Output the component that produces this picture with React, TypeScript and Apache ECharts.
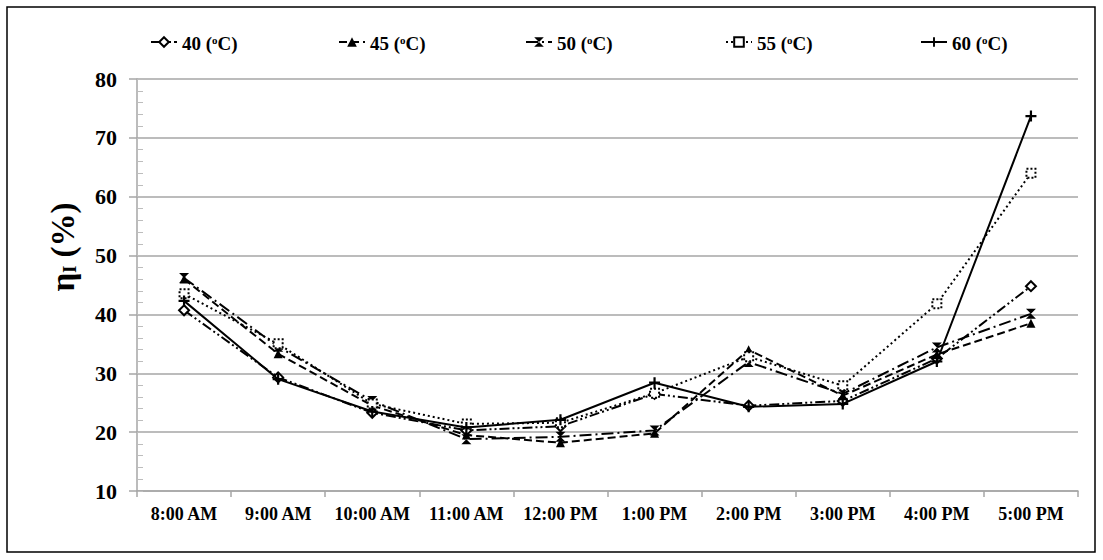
import React, { useEffect, useRef } from "react";
import * as echarts from "echarts";

const categories = ["8:00 AM", "9:00 AM", "10:00 AM", "11:00 AM", "12:00 PM", "1:00 PM", "2:00 PM", "3:00 PM", "4:00 PM", "5:00 PM"];
const seriesNames = ["40 (oC)", "45 (oC)", "50 (oC)", "55 (oC)", "60 (oC)"];
const s40 = [40.7, 29.3, 23.3, 20.3, 21.0, 26.5, 24.5, 25.3, 32.5, 44.8];
const s45 = [46.0, 33.3, 24.5, 19.5, 18.2, 19.8, 34.0, 26.2, 33.2, 38.5];
const s50 = [46.2, 34.5, 25.3, 18.8, 19.2, 20.3, 31.9, 26.5, 34.4, 40.1];
const s55 = [43.5, 35.0, 24.8, 21.4, 21.6, 26.6, 32.8, 27.9, 41.8, 64.0];
const s60 = [42.3, 29.0, 23.5, 20.8, 22.1, 28.4, 24.3, 24.8, 32.0, 73.7];
const yMin = 10;
const yMax = 80;
const yInterval = 10;

const FONT = "'Liberation Serif', 'Times New Roman', serif";

const PLUS = "path://M4,0 L6,0 L6,4 L10,4 L10,6 L6,6 L6,10 L4,10 L4,6 L0,6 L0,4 L4,4 Z";
const HOURGLASS = "path://M0,0 L10,0 L0,10 L10,10 Z";

export default function App() {
  const ref = useRef<HTMLDivElement>(null);
  useEffect(() => {
    if (!ref.current) return;
    const chart = echarts.init(ref.current, null, { renderer: "svg" });
    const values = [s40, s45, s50, s55, s60];
    const styles: any[] = [
      { dash: [10, 3, 2, 3, 2, 3], symbol: "diamond", size: 10, item: { color: "#fff", borderColor: "#000", borderWidth: 2 } },
      { dash: [8, 4], symbol: "triangle", size: 9, item: { color: "#000" } },
      { dash: [12, 4, 2, 4], symbol: HOURGLASS, size: 10, item: { color: "#000" } },
      { dash: [2, 3], symbol: "rect", size: 9, item: { color: "#fff", borderColor: "#000", borderWidth: 2, borderType: "dotted" } },
      { dash: "solid", symbol: PLUS, size: 11, item: { color: "#000" } },
    ];
    const legendLefts = [145, 333, 520, 720, 915];
    const legends = seriesNames.map((n, i) => ({
      data: [n],
      left: legendLefts[i],
      top: 26,
      itemWidth: 26,
      itemHeight: 12,
      formatter: (name: string) => {
        const m = name.split(" (o");
        return "{n|" + m[0] + " (}{s|o}{n|C)}";
      },
      textStyle: {
        fontFamily: FONT,
        fontWeight: "bold",
        fontSize: 19,
        color: "#000",
        rich: {
          n: { fontFamily: FONT, fontWeight: "bold", fontSize: 19, color: "#000", lineHeight: 22, verticalAlign: "bottom" },
          s: { fontFamily: FONT, fontWeight: "bold", fontSize: 11, color: "#000", lineHeight: 22, verticalAlign: "top", padding: [3, 0, 0, 0] },
        },
      },
    }));
    chart.setOption({
      animation: false,
      backgroundColor: "#fff",
      legend: legends,
      grid: { left: 137, top: 79, width: 941, height: 412, containLabel: false },
      xAxis: {
        type: "category",
        data: categories,
        boundaryGap: true,
        axisLine: { lineStyle: { color: "#a6a6a6", width: 1.5 } },
        axisTick: { show: true, length: 6, lineStyle: { color: "#a6a6a6", width: 1.5 } },
        axisLabel: { fontFamily: FONT, fontWeight: "bold", fontSize: 18, color: "#000", margin: 14, interval: 0 },
        splitLine: { show: false },
      },
      yAxis: [
        {
          type: "value",
          min: yMin,
          max: yMax,
          interval: yInterval,
          axisLine: { show: true, lineStyle: { color: "#a6a6a6", width: 1.5 } },
          axisTick: { show: true, length: 8, lineStyle: { color: "#a6a6a6", width: 1.5 } },
          axisLabel: { fontFamily: FONT, fontWeight: "bold", fontSize: 22, color: "#000", margin: 20 },
          splitLine: { show: true, lineStyle: { color: "#a6a6a6", width: 1.5 } },
        },
        {
          type: "value",
          position: "left",
          min: yMin,
          max: yMax,
          interval: 2,
          axisLine: { show: false },
          axisTick: { show: true, inside: true, length: 6, lineStyle: { color: "#bdbdbd", width: 1 } },
          axisLabel: { show: false },
          splitLine: { show: false },
        },
      ],
      graphic: [
        {
          type: "rect",
          shape: { x: 7, y: 7, width: 1088, height: 545 },
          style: { fill: "none", stroke: "#000", lineWidth: 1.5 },
          silent: true,
        },
        {
          type: "text",
          x: 63,
          y: 247,
          rotation: Math.PI / 2,
          style: {
            text: "{a|η}{b|I}{a| (%)}",
            align: "center",
            verticalAlign: "middle",
            fill: "#000",
            rich: {
              a: { fontFamily: FONT, fontWeight: "bold", fontSize: 33, fill: "#000", lineHeight: 36, verticalAlign: "middle" },
              b: { fontFamily: FONT, fontWeight: "bold", fontSize: 18, fill: "#000", lineHeight: 36, verticalAlign: "bottom", padding: [0, 0, 2, 0] },
            },
          },
        },
      ],
      series: seriesNames.map((n, i) => ({
        name: n,
        type: "line",
        data: values[i],
        yAxisIndex: 0,
        symbol: styles[i].symbol,
        symbolSize: styles[i].size,
        showAllSymbol: true,
        lineStyle: { color: "#000", width: 2, type: styles[i].dash },
        itemStyle: styles[i].item,
        emphasis: { disabled: true },
        z: 2 + i,
      })),
    });
    return () => chart.dispose();
  }, []);
  return <div ref={ref} style={{ position: "absolute", left: 0, top: 0, width: 1103, height: 560 }} />;
}
